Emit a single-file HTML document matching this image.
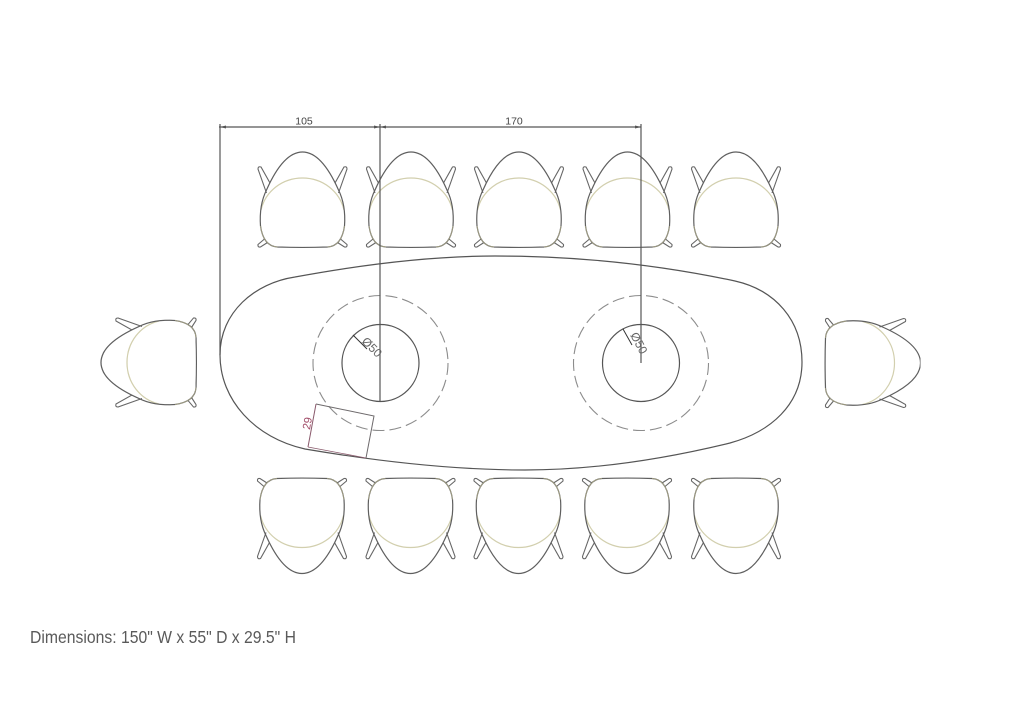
<!DOCTYPE html>
<html>
<head>
<meta charset="utf-8">
<style>
html,body{margin:0;padding:0;background:#fff;width:1024px;height:703px;overflow:hidden}
svg{display:block}
text{font-family:"Liberation Sans",sans-serif}
</style>
</head>
<body>
<svg width="1024" height="703" viewBox="0 0 1024 703" xmlns="http://www.w3.org/2000/svg">
<defs>
<filter id="soft" x="0" y="0" width="100%" height="100%"><feGaussianBlur stdDeviation="0.35"/></filter>
<g id="chair" fill="none">
  <path d="M-36,41 L-44.500,17 Q-44.500,14 -41.500,15 L-32.500,31" stroke="#666" stroke-width="1.100"/>
  <path d="M36,41 L44.500,17 Q44.500,14 41.500,15 L32.500,31" stroke="#666" stroke-width="1.100"/>
  <path d="M-38,87 L-44.500,92.500 Q-45,95.500 -42,95 L-35,90.500" stroke="#666" stroke-width="1.100"/>
  <path d="M38,87 L44.500,92.500 Q45,95.500 42,95 L35,90.500" stroke="#666" stroke-width="1.100"/>
  <path d="M-41.500,58 C-37,39 -20,26 0,26 C20,26 37,39 41.500,58" stroke="#d2cfae" stroke-width="1.200"/>
  <path d="M-25,95 C-34,94.500 -40,88 -42,74 C-43,60 -41,48 -36,38 C-28,20 -16,0 0,0 C16,0 28,20 36,38 C41,48 43,60 42,74 C40,88 34,94.500 25,95 C10,95.500 -10,95.500 -25,95 Z" stroke="#5f5f5f" stroke-width="1.200"/>
  <path d="M-25,95 C-34,94.500 -40,88 -42,74 M25,95 C34,94.500 40,88 42,74" stroke="#a8a586" stroke-width="0.800"/>
</g>
</defs>
<rect width="1024" height="703" fill="#fff"/>
<g filter="url(#soft)">
<use href="#chair" transform="translate(302.5,152)"/>
<use href="#chair" transform="translate(411,152)"/>
<use href="#chair" transform="translate(519,152)"/>
<use href="#chair" transform="translate(627.500,152)"/>
<use href="#chair" transform="translate(736,152)"/>

<use href="#chair" transform="translate(302,573.500) scale(1,-1)"/>
<use href="#chair" transform="translate(410.500,573.500) scale(1,-1)"/>
<use href="#chair" transform="translate(518.500,573.500) scale(1,-1)"/>
<use href="#chair" transform="translate(627,573.500) scale(1,-1)"/>
<use href="#chair" transform="translate(736,573.500) scale(1,-1)"/>

<use href="#chair" transform="translate(101,362.500) rotate(-90)"/>
<use href="#chair" transform="translate(920.500,363) rotate(90)"/>

<path d="M220,355 C220,312 255,283 295,277 C360,265 430,256 495,256 C580,256 660,265 735,281 C775,290 802,320 802,362 C802,405 770,432 730,443 C660,460 590,470 525,470 C450,470 370,460 305,449 C255,438 220,400 220,355 Z" fill="none" stroke="#555" stroke-width="1.200"/>

<circle cx="380.500" cy="363" r="38.500" fill="none" stroke="#555" stroke-width="1.200"/>
<circle cx="641" cy="363" r="38.500" fill="none" stroke="#555" stroke-width="1.200"/>
<circle cx="380.500" cy="363" r="67.500" fill="none" stroke="#8c8c8c" stroke-width="1.100" stroke-dasharray="12 5"/>
<circle cx="641" cy="363" r="67.500" fill="none" stroke="#8c8c8c" stroke-width="1.100" stroke-dasharray="12 5"/>

<path d="M219,127 H641" stroke="#555" stroke-width="1.200" fill="none"/>
<path d="M220,124 V355 M380,124 V401.500 M641,124 V363" stroke="#555" stroke-width="1.200" fill="none"/>
<path d="M220,127 l6,-1.500 v3 Z M380,127 l-6,-1.500 v3 Z M380,127 l6,-1.500 v3 Z M641,127 l-6,-1.500 v3 Z" fill="#555"/>
<text x="304" y="124.500" font-size="10.500" fill="#444" text-anchor="middle">105</text>
<text x="514" y="124.500" font-size="10.500" fill="#444" text-anchor="middle">170</text>

<path d="M353,335 L367,349" stroke="#333" stroke-width="1" fill="none"/>
<text x="0" y="0" font-size="12" fill="#666" transform="translate(361,342) rotate(45)">Ø50</text>
<path d="M623,329 L632,345" stroke="#333" stroke-width="1" fill="none"/>
<text x="0" y="0" font-size="12" fill="#666" transform="translate(630,335) rotate(62)">Ø50</text>

<path d="M316,404 L374,416 L366,458" fill="none" stroke="#6e6a6c" stroke-width="1"/>
<path d="M316,404 L308,447" fill="none" stroke="#8a5a6c" stroke-width="1"/>
<path d="M308,447 L366,458" fill="none" stroke="#8a5a6c" stroke-width="0.800"/>
<text x="0" y="0" font-size="11" fill="#a04a66" text-anchor="middle" transform="translate(311,424) rotate(-80)">29</text>

<text x="30" y="643" font-size="17.500" fill="#5a5a5a" textLength="266" lengthAdjust="spacingAndGlyphs">Dimensions: 150" W x 55" D x 29.5" H</text>
</g>
</svg>
</body>
</html>
